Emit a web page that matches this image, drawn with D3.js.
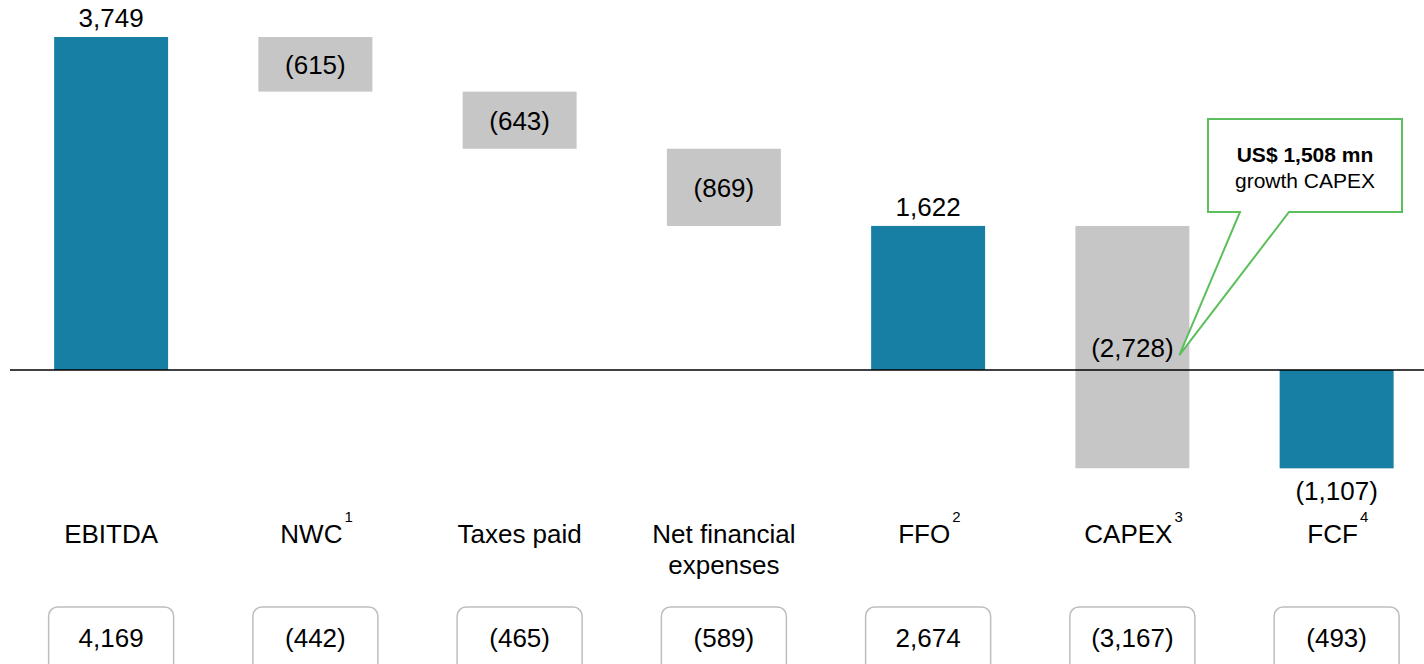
<!DOCTYPE html>
<html>
<head>
<meta charset="utf-8">
<script src="https://cdn.jsdelivr.net/npm/d3@7"></script>
<style>
  html, body { margin: 0; padding: 0; background: #fff; }
  svg { display: block; font-family: Arial, "Liberation Sans", sans-serif; }
</style>
</head>
<body>
<div id="chart"></div>
<script>
// waterfall data (US$ mn)
const categories = ["EBITDA", "NWC", "Taxes paid", "Net financial expenses", "FFO", "CAPEX", "FCF"];
const labelLines = [["EBITDA"], ["NWC"], ["Taxes paid"], ["Net financial", "expenses"], ["FFO"], ["CAPEX"], ["FCF"]];
const footnotes = ["", "1", "", "", "2", "3", "4"];
const values = [3749, -615, -643, -869, 1622, -2728, -1107];
const isTotal = [true, false, false, false, true, false, true];
const priorValues = [4169, -442, -465, -589, 2674, -3167, -493];
const callout = { category: "CAPEX", bold: "US$ 1,508 mn", text: "growth CAPEX" };

const width = 1424, height = 664;
const teal = "#167fa3", gray = "#c6c6c6";
const fs = 26;

const svg = d3.select("#chart").append("svg")
  .attr("width", width)
  .attr("height", height);

const x = d3.scaleBand()
  .domain(categories)
  .range([9, 1438.75])
  .paddingInner(0.442)
  .paddingOuter(0.221);

const y = d3.scaleLinear()
  .domain([0, 3749])
  .range([370, 37]);

// build start / end of each step
let running = 0;
const bars = categories.map((c, i) => {
  let start, end;
  if (isTotal[i]) { start = 0; end = values[i]; running = values[i]; }
  else { start = running; end = running + values[i]; running = end; }
  return { cat: c, i, value: values[i], start, end, total: isTotal[i] };
});

const fmt = v => v < 0 ? "(" + d3.format(",")(-v) + ")" : d3.format(",")(v);

svg.selectAll("rect.bar")
  .data(bars)
  .enter()
  .append("rect")
  .attr("class", "bar")
  .attr("x", d => x(d.cat))
  .attr("width", x.bandwidth())
  .attr("y", d => y(Math.max(d.start, d.end)))
  .attr("height", d => Math.abs(y(d.start) - y(d.end)))
  .attr("fill", d => d.total ? teal : gray);

// zero line
svg.append("line")
  .attr("x1", 10).attr("x2", width)
  .attr("y1", y(0)).attr("y2", y(0))
  .attr("stroke", "#000").attr("stroke-width", 1.5);

// value labels
svg.selectAll("text.val")
  .data(bars)
  .enter()
  .append("text")
  .attr("class", "val")
  .attr("x", d => x(d.cat) + x.bandwidth() / 2)
  .attr("y", d => {
    if (d.total && d.value >= 0) return y(d.end) - 10;
    if (d.total) return y(d.end) + 32;
    return (y(d.start) + y(d.end)) / 2 + 10;
  })
  .attr("text-anchor", "middle")
  .attr("font-size", fs)
  .attr("fill", "#000")
  .text(d => fmt(d.value));

// category labels with footnote marks
const cat = svg.selectAll("g.cat")
  .data(categories)
  .enter()
  .append("g")
  .attr("class", "cat")
  .attr("transform", c => `translate(${x(c) + x.bandwidth() / 2},0)`);

cat.each(function (c, i) {
  const g = d3.select(this);
  const t = g.append("text")
    .attr("text-anchor", "middle")
    .attr("font-size", fs)
    .attr("fill", "#000");
  labelLines[i].forEach((line, k) => {
    t.append("tspan").attr("x", 0).attr("y", 543 + k * 31).text(line);
  });
  if (footnotes[i]) {
    const w = t.node().getComputedTextLength();
    t.selectAll("tspan").attr("x", -4);
    g.append("text")
      .attr("x", w / 2 - 2)
      .attr("y", 522)
      .attr("font-size", 15)
      .attr("fill", "#000")
      .text(footnotes[i]);
  }
});

// prior period boxes
const prior = svg.selectAll("g.prior")
  .data(priorValues)
  .enter()
  .append("g")
  .attr("class", "prior")
  .attr("transform", (d, i) => `translate(${x(categories[i]) + x.bandwidth() / 2},0)`);

prior.append("rect")
  .attr("x", -62.5).attr("y", 607)
  .attr("width", 125).attr("height", 80)
  .attr("rx", 9)
  .attr("fill", "#fff")
  .attr("stroke", "#bdbdbd")
  .attr("stroke-width", 1.5);

prior.append("text")
  .attr("y", 647)
  .attr("text-anchor", "middle")
  .attr("font-size", fs)
  .attr("fill", "#000")
  .text(d => fmt(d));

// callout for growth capex
const cb = bars.find(b => b.cat === callout.category);
const tipX = x(cb.cat) + x.bandwidth() - 10;
const tipY = (y(cb.start) + y(cb.end)) / 2 + 8;
const bx0 = 1208, bx1 = 1402, by0 = 119, by1 = 212;
svg.append("path")
  .attr("d", `M${bx0},${by0} L${bx1},${by0} L${bx1},${by1} L1289,${by1} L${tipX},${tipY} L1240,${by1} L${bx0},${by1} Z`)
  .attr("fill", "#fff")
  .attr("stroke", "#5cbf5c")
  .attr("stroke-width", 2);

svg.append("text")
  .attr("x", (bx0 + bx1) / 2).attr("y", 162)
  .attr("text-anchor", "middle")
  .attr("font-size", 21)
  .attr("font-weight", "bold")
  .text(callout.bold);
svg.append("text")
  .attr("x", (bx0 + bx1) / 2).attr("y", 188)
  .attr("text-anchor", "middle")
  .attr("font-size", 21)
  .text(callout.text);
</script>
</body>
</html>
